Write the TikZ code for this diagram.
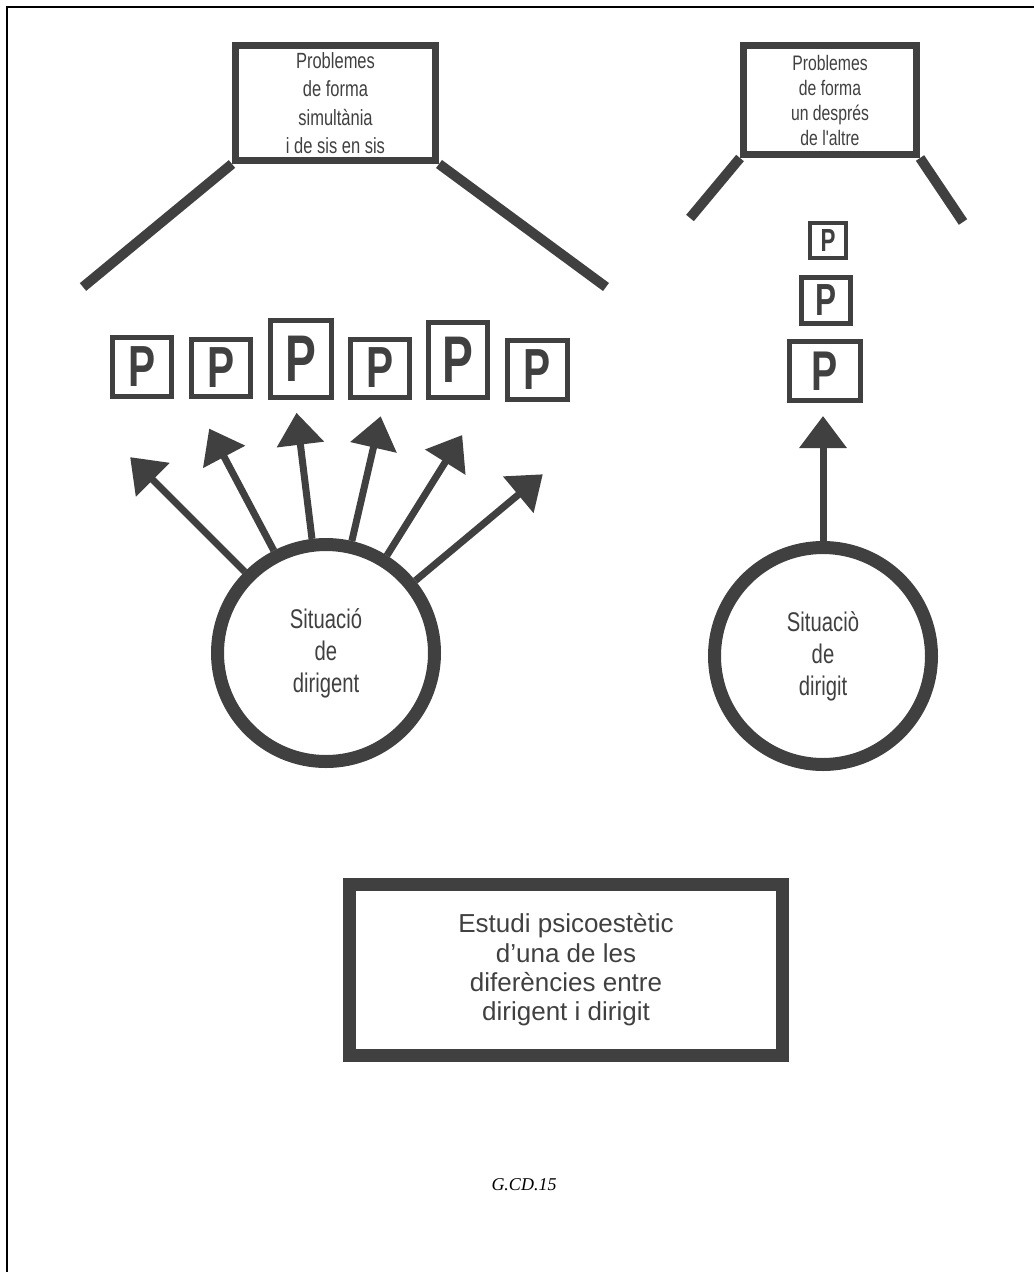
\documentclass[tikz,border=0pt]{standalone}
\usepackage{fontspec}
\setmainfont{Liberation Sans}
\newfontfamily\narrowsf[FakeStretch=0.75]{Liberation Sans}
\newfontfamily\pfont[FakeStretch=0.7]{Liberation Sans}
\newfontfamily\refserif{Liberation Serif}
\usetikzlibrary{positioning,arrows.meta,calc}
\colorlet{ink}{black!75}
\tikzset{
  >={Triangle[width=46pt,length=32pt]},
  probbox/.style={draw=ink,line width=7pt,inner sep=0pt,text=ink,align=center,
                  font=\narrowsf\fontsize{22}{28.5}\selectfont},
  leg/.style={draw=ink,line width=10pt},
  pbox/.style={draw=ink,line width=5pt,inner sep=0pt,text=ink,
               font=\pfont\bfseries\fontsize{#1}{#1}\selectfont},
  sitcircle/.style={circle,draw=ink,line width=13pt,minimum size=217pt,inner sep=0pt,
                    text=ink,align=center,font=\narrowsf\fontsize{27}{32}\selectfont},
  fan/.style={->,draw=ink,line width=7pt},
  studybox/.style={draw=ink,line width=13pt,inner sep=0pt,text=ink,align=center,
                   font=\fontsize{26}{29.3}\selectfont}
}

\begin{document}
\begin{tikzpicture}[x=1pt,y=1pt]
  \useasboundingbox (0,0) rectangle (1034,-1272);
  \draw[line width=2.5pt] (7,-1272) -- (7,-7) -- (1034,-7);

  % ---- dirigent ----
  \node[probbox,minimum width=200pt,minimum height=115pt] (simul) at (335.5,-103)
    {Problemes\\de forma\\simultània\\i de sis en sis};
  \coordinate (simulL) at (83,-287);
  \coordinate (simulR) at (606,-287);
  \draw[leg] (simul.south west) -- (simulL);
  \draw[leg] (simul.south east) -- (simulR);

  \node[pbox=58,minimum width=59pt,minimum height=59pt] (p1) at (142,-367) {P};
  \node[pbox=58,minimum width=59pt,minimum height=57pt] (p2) at (221,-368) {P};
  \node[pbox=66,minimum width=61pt,minimum height=77pt] (p3) at (301,-359) {P};
  \node[pbox=58,minimum width=59pt,minimum height=58pt] (p4) at (380,-368) {P};
  \node[pbox=66,minimum width=59pt,minimum height=75pt] (p5) at (458,-360) {P};
  \node[pbox=58,minimum width=60pt,minimum height=59pt] (p6) at (537,-370) {P};

  \node[sitcircle] (dirigent) at (326,-653) {Situació\\de\\dirigent};
  \coordinate (f1) at ($(dirigent.center)+(135:277)$);
  \coordinate (f2) at ($(dirigent.center)+(117.5:253)$);
  \coordinate (f3) at ($(dirigent.center)+(97:242)$);
  \coordinate (f4) at ($(dirigent.center)+(77:243)$);
  \coordinate (f5) at ($(dirigent.center)+(58:257)$);
  \coordinate (f6) at ($(dirigent.center)+(39.5:281)$);
  \draw[fan] (dirigent.135) -- (f1);
  \draw[fan] (dirigent.117.5) -- (f2);
  \draw[fan] (dirigent.97) -- (f3);
  \draw[fan] (dirigent.77) -- (f4);
  \draw[fan] (dirigent.58) -- (f5);
  \draw[fan] (dirigent.39.5) -- (f6);

  % ---- dirigit ----
  \node[probbox,minimum width=173pt,minimum height=109pt,
        font=\narrowsf\fontsize{21}{25}\selectfont] (succ) at (830,-100)
    {Problemes\\de forma\\un després\\de l'altre};
  \coordinate (succL) at (690,-218);
  \coordinate (succR) at (963,-222);
  \draw[leg] (succ.south west) -- (succL);
  \draw[leg] (succ.south east) -- (succR);

  \node[pbox=32,line width=4pt,minimum width=36pt,minimum height=35pt] (q1) at (828,-240) {P};
  \node[pbox=45,minimum width=49pt,minimum height=46pt] (q2) at (826,-300) {P};
  \node[pbox=56,minimum width=71pt,minimum height=59pt] (q3) at (825,-371) {P};

  \node[sitcircle] (dirigit) at (823,-656) {Situaciò\\de\\dirigit};
  \coordinate (fR) at (823,-416);
  \draw[fan] (dirigit.north) -- (fR);

  % ---- caption ----
  \node[studybox,minimum width=433pt,minimum height=171pt] (study) at (566,-970)
    {Estudi psicoestètic\\d'una de les\\diferències entre\\dirigent i dirigit};
  \node[font=\refserif\itshape\fontsize{18}{18}\selectfont] (ref) at (524,-1185) {G.CD.15};
\end{tikzpicture}
\end{document}
